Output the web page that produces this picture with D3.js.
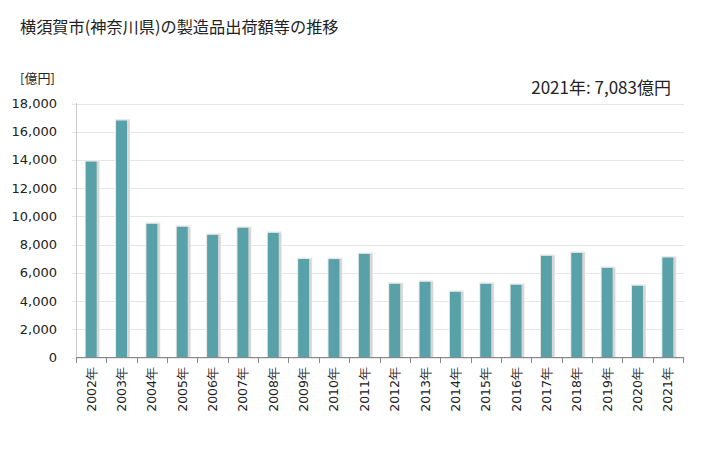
<!DOCTYPE html>
<html><head><meta charset="utf-8">
<script src="https://cdn.jsdelivr.net/npm/d3@7/dist/d3.min.js"></script>
<style>body{margin:0;background:#fff}svg{display:block}</style>
</head><body>
<script>
const years = ["2002年","2003年","2004年","2005年","2006年","2007年","2008年","2009年","2010年","2011年","2012年","2013年","2014年","2015年","2016年","2017年","2018年","2019年","2020年","2021年"];
const values = [13880,16790,9470,9260,8690,9190,8830,6980,6970,7340,5220,5360,4650,5220,5150,7200,7410,6350,5080,7083];
const yTicks = [0,2000,4000,6000,8000,10000,12000,14000,16000,18000];
const title = "横須賀市(神奈川県)の製造品出荷額等の推移";
const unitLabel = "[億円]";
const note = "2021年: 7,083億円";

const W=728,H=450;
const svg=d3.select("body").append("svg").attr("width",W).attr("height",H);
const x=d3.scaleBand().domain(years).range([76,683]).paddingInner(0.64).paddingOuter(0.32);
const y=d3.scaleLinear().domain([0,18000]).range([357.5,103.5]);

svg.append("text").attr("x",20).attr("y",33).attr("font-family","'Noto Sans CJK JP'").attr("font-size",16.2).attr("fill","#222").text(title);
svg.append("text").attr("x",20).attr("y",83).attr("font-family","'Noto Sans CJK JP'").attr("font-size",13).attr("fill","#222").text(unitLabel);
svg.append("text").attr("x",671).attr("y",94).attr("text-anchor","end").attr("font-family","'Noto Sans CJK JP'").attr("font-size",17).attr("fill","#222").text(note);

// grid
svg.append("g").selectAll("line").data(yTicks).join("line")
  .attr("x1",72).attr("x2",684).attr("y1",d=>Math.round(y(d))+0.5).attr("y2",d=>Math.round(y(d))+0.5)
  .attr("stroke","#e6e6e6");
// y axis line
svg.append("line").attr("x1",76.5).attr("x2",76.5).attr("y1",103).attr("y2",357).attr("stroke","#cccccc");
// y labels
svg.append("g").selectAll("text").data(yTicks).join("text")
  .attr("x",57).attr("y",d=>y(d)+4.5).attr("text-anchor","end")
  .attr("font-family","'DejaVu Sans'").attr("font-size",13).attr("fill","#222")
  .text(d=>d3.format(",")(d));

// bars with shadow
const g=svg.append("g");
g.selectAll("rect.sh").data(values).join("rect").attr("class","sh")
  .attr("x",(d,i)=>x(years[i])-1).attr("y",d=>y(d)-1.5).attr("width",x.bandwidth()+4).attr("height",d=>357.5-y(d)+1.5)
  .attr("fill","#e8e8e8");
g.selectAll("rect.sh2").data(values).join("rect").attr("class","sh2")
  .attr("x",(d,i)=>x(years[i])+1).attr("y",d=>y(d)).attr("width",x.bandwidth()+1.5).attr("height",d=>357.5-y(d))
  .attr("fill","#d6d6d6");
g.selectAll("rect.bar").data(values).join("rect").attr("class","bar")
  .attr("x",(d,i)=>x(years[i])).attr("y",d=>y(d)).attr("width",x.bandwidth()).attr("height",d=>357.5-y(d))
  .attr("fill","#58a1a8");

// x axis
svg.append("line").attr("x1",76).attr("x2",684).attr("y1",357.5).attr("y2",357.5).attr("stroke","#888");
const step=x.step();
svg.append("g").selectAll("line").data(d3.range(years.length+1)).join("line")
  .attr("x1",i=>Math.round(76+i*step)+0.5).attr("x2",i=>Math.round(76+i*step)+0.5)
  .attr("y1",357.5).attr("y2",363).attr("stroke","#888");
svg.append("g").selectAll("text").data(years).join("text")
  .attr("transform",d=>`translate(${x(d)+x.bandwidth()/2+4.5},367) rotate(-90)`)
  .attr("text-anchor","end").attr("font-family","'DejaVu Sans'").attr("font-size",12.5).attr("fill","#222")
  .text(d=>d);
</script>
</body></html>
